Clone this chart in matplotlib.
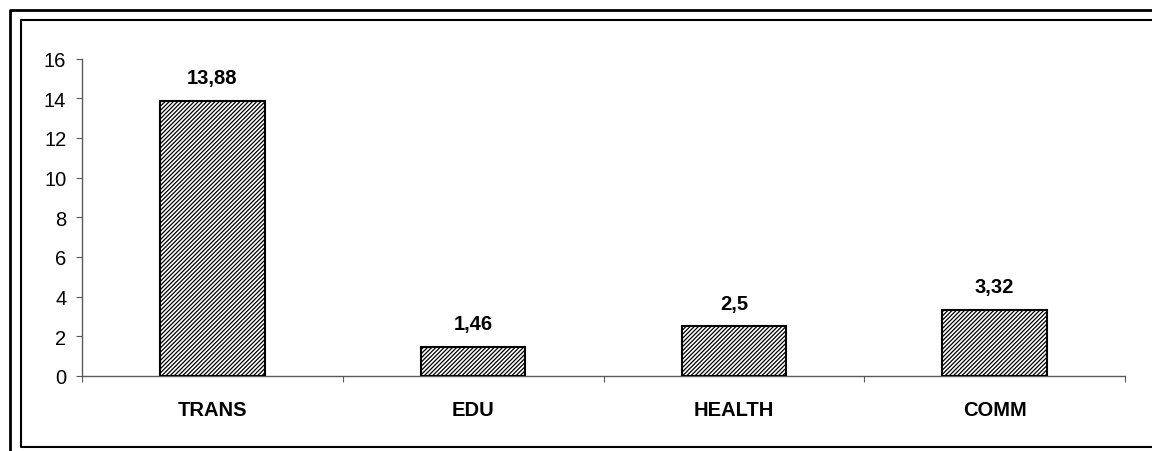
import matplotlib
matplotlib.use("Agg")
import matplotlib.pyplot as plt
from matplotlib.lines import Line2D

# Daten
kategorien = ["TRANS", "EDU", "HEALTH", "COMM"]
werte = [13.88, 1.46, 2.5, 3.32]
y_ticks = [0, 2, 4, 6, 8, 10, 12, 14, 16]

W, H = 1152, 452
plt.rcParams['font.family'] = ['Liberation Sans', 'DejaVu Sans']
plt.rcParams['hatch.linewidth'] = 0.9

fig = plt.figure(figsize=(W / 100, H / 100), dpi=100)
ax = fig.add_axes([82 / W, 1 - 377 / H, (1125 - 82) / W, (377 - 59.5) / H])

x = list(range(len(kategorien)))
ax.bar(x, werte, width=0.40, color='white', edgecolor='black',
       linewidth=1.5, hatch='////////', zorder=3)

ax.set_xlim(-0.5, len(kategorien) - 0.5)
ax.set_ylim(0, 16)
ax.set_yticks(y_ticks)
ax.tick_params(axis='y', labelsize=14.5, length=4.3, width=0.8,
               color='#5a5a5a', pad=7)
# Kategoriegrenzen als Ticks
ax.set_xticks([i - 0.5 for i in range(len(kategorien) + 1)])
ax.set_xticklabels([])
ax.tick_params(axis='x', length=4.3, width=0.8, color='#5a5a5a')

for s in ['top', 'right']:
    ax.spines[s].set_visible(False)
for s in ['left', 'bottom']:
    ax.spines[s].set_color('#5a5a5a')
    ax.spines[s].set_linewidth(1.0)

# Werte über den Balken
for xi, v in zip(x, werte):
    ax.annotate(str(v).replace('.', ','), xy=(xi, v), xytext=(0, 12.7),
                textcoords='offset points', ha='center', va='baseline',
                fontsize=14.5, fontweight='bold')

# Kategorienamen
for xi, k in zip(x, kategorien):
    ax.annotate(k, xy=(xi, 0), xycoords=('data', 'axes fraction'),
                xytext=(0, -28.4), textcoords='offset points',
                ha='center', va='baseline', fontsize=14.5, fontweight='bold')

# Rahmen
def px(xs, ys):
    return [a / W for a in xs], [1 - b / H for b in ys]

fx, fy = px([W + 5, 9.5, 9.5], [10.5, 10.5, H + 5])
fig.add_artist(Line2D(fx, fy, color='black', linewidth=2.0))
fx, fy = px([W + 5, 20.5, 20.5, W + 5], [21, 21, 448, 448])
fig.add_artist(Line2D(fx, fy, color='black', linewidth=1.5))

fig.savefig('out.png', dpi=100)
